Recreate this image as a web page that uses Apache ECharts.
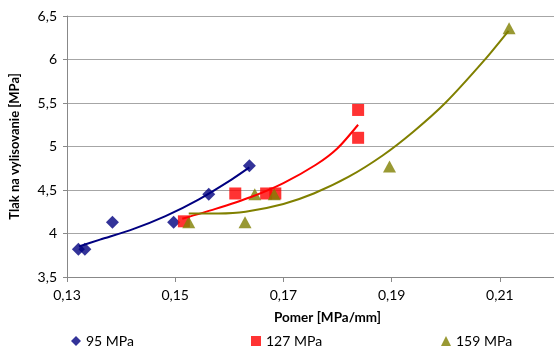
<!DOCTYPE html>
<html>
<head>
<meta charset="utf-8">
<script src="https://cdn.jsdelivr.net/npm/echarts@6/dist/echarts.min.js"></script>
<style>
  html, body { margin: 0; padding: 0; background: #fff; }
  #chart { width: 554px; height: 346px; }
</style>
</head>
<body>
<div id="chart"></div>
<script>
// Measured pairs: [pomer MPa/mm, tlak MPa]
const p95 = [[0.1321, 3.82], [0.1333, 3.82], [0.1384, 4.13], [0.1497, 4.13], [0.1562, 4.45], [0.1637, 4.78]];
const p127 = [[0.1516, 4.14], [0.1611, 4.46], [0.1668, 4.46], [0.1685, 4.46], [0.1838, 5.42], [0.1838, 5.10]];
const p159 = [[0.1525, 4.13], [0.1629, 4.13], [0.1647, 4.45], [0.1683, 4.45], [0.1896, 4.77], [0.2117, 6.36]];

// Trend curves for each pressing force
const trend95 = [[0.1322, 3.85], [0.1361, 3.93], [0.1422, 4.05], [0.1482, 4.20], [0.1543, 4.39], [0.1604, 4.62], [0.1637, 4.76]];
const trend127 = [[0.1513, 4.17], [0.1573, 4.28], [0.1640, 4.42], [0.1700, 4.58], [0.1760, 4.79], [0.1800, 4.98], [0.1838, 5.25]];
const trend159 = [[0.1525, 4.23], [0.1580, 4.23], [0.1630, 4.25], [0.1700, 4.34], [0.1756, 4.46], [0.1820, 4.65], [0.1884, 4.90], [0.1940, 5.17], [0.1999, 5.50], [0.2071, 5.99], [0.2116, 6.33]];

const seriesNames = ['95 MPa', '127 MPa', '159 MPa'];
const xTicks = [0.13, 0.15, 0.17, 0.19, 0.21];

const FONT = 'Lato';
const comma = v => String(+v.toFixed(2)).replace('.', ',');

const chart = echarts.init(document.getElementById('chart'), null, { renderer: 'canvas' });

const legendBase = {
  top: 329, itemWidth: 10, itemHeight: 10,
  textStyle: { fontFamily: FONT, fontSize: 14, color: '#000' }
};

const trendLine = (name, data, color) => ({
  name, type: 'line', data, smooth: 0.25,
  showSymbol: false, symbol: 'none', silent: true, z: 3,
  lineStyle: { color, width: 2 }
});

chart.setOption({
  animation: false,
  backgroundColor: '#fff',
  grid: { left: 60, right: 0, top: 16, bottom: 69, containLabel: false },
  legend: [
    Object.assign({ left: 66, data: [{ name: seriesNames[0], icon: 'diamond' }] }, legendBase),
    Object.assign({ left: 246, data: [{ name: seriesNames[1], icon: 'rect' }] }, legendBase),
    Object.assign({ left: 436, data: [{ name: seriesNames[2], icon: 'triangle' }] }, legendBase)
  ],
  xAxis: {
    type: 'value', min: 0.13, max: 0.22,
    name: 'Pomer [MPa/mm]', nameLocation: 'middle', nameGap: 34,
    nameTextStyle: { fontFamily: FONT, fontSize: 13.5, fontWeight: 'bold', color: '#000', padding: [0, 0, 0, 34] },
    axisLine: { show: true, lineStyle: { color: '#888', width: 1 } },
    axisTick: { show: true, length: 5, lineStyle: { color: '#888' }, customValues: xTicks },
    axisLabel: { fontFamily: FONT, fontSize: 14, color: '#000', margin: 11, customValues: xTicks, formatter: comma },
    splitLine: { show: false }
  },
  yAxis: {
    type: 'value', min: 3.5, max: 6.5, interval: 0.5,
    name: 'Tlak na vylisovanie [MPa]', nameLocation: 'middle', nameGap: 34, nameRotate: 90,
    nameTextStyle: { fontFamily: FONT, fontSize: 13, fontWeight: 'bold', color: '#000', padding: [0, 0, 12, 0] },
    axisLine: { show: true, lineStyle: { color: '#888', width: 1 } },
    axisTick: { show: true, length: 4, lineStyle: { color: '#888' } },
    axisLabel: { fontFamily: FONT, fontSize: 14, color: '#000', margin: 10, formatter: comma },
    splitLine: { show: true, lineStyle: { color: '#a6a6a6', width: 1 } }
  },
  series: [
    { name: seriesNames[0], type: 'scatter', data: p95, symbol: 'diamond', symbolSize: 13, itemStyle: { color: '#000080' }, z: 2 },
    { name: seriesNames[1], type: 'scatter', data: p127, symbol: 'rect', symbolSize: 12, itemStyle: { color: '#ff0000' }, z: 2 },
    { name: seriesNames[2], type: 'scatter', data: p159, symbol: 'triangle', symbolSize: [13, 12], itemStyle: { color: '#808000' }, z: 2 },
    trendLine('trend95', trend95, '#000080'),
    trendLine('trend127', trend127, '#ff0000'),
    trendLine('trend159', trend159, '#808000')
  ]
});
</script>
</body>
</html>
